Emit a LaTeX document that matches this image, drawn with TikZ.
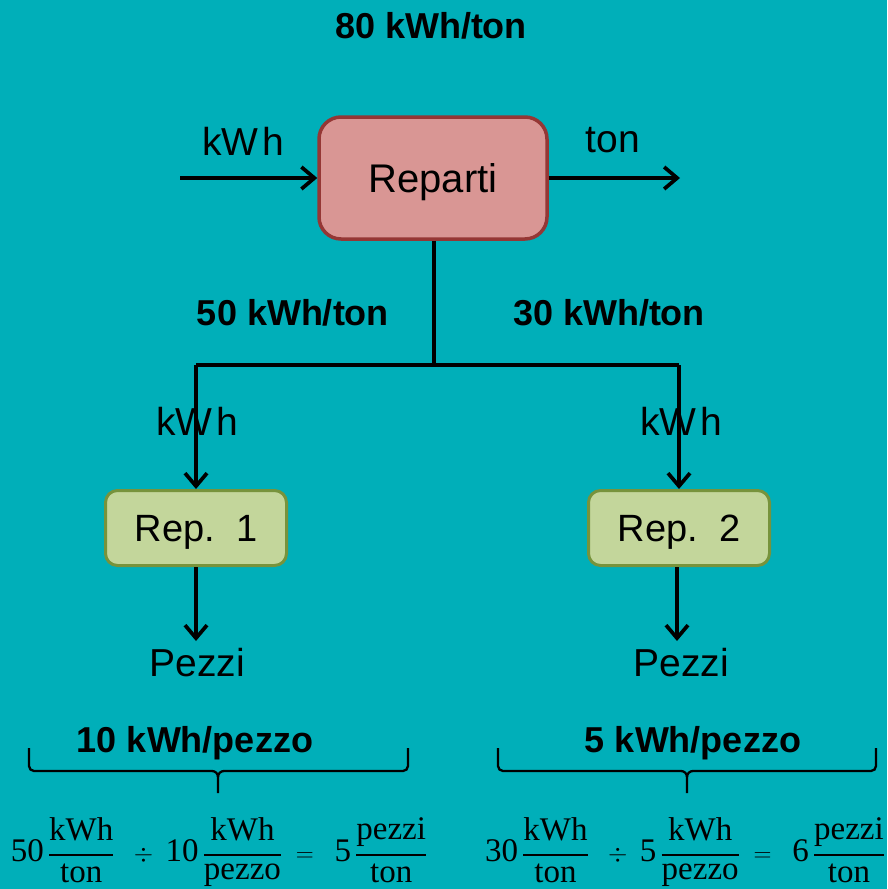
\documentclass[tikz,border=0pt]{standalone}
\usepackage{fontspec}
\usepackage{amsmath}
\setmainfont{Liberation Sans}
\newfontfamily\eqfont{Liberation Serif}
\usetikzlibrary{arrows.meta}
\definecolor{bg}{RGB}{0,175,185}
\definecolor{redfill}{RGB}{217,150,148}
\definecolor{redline}{RGB}{149,55,53}
\definecolor{grfill}{RGB}{195,214,155}
\definecolor{grline}{RGB}{119,147,60}
\newcommand{\myfr}[2]{\genfrac{}{}{2.5pt}{0}{\text{#1}\rule[-6pt]{0pt}{6pt}}{\text{#2}}}
\begin{document}
\begin{tikzpicture}[x=1pt,y=-1pt,
  lab/.style={font=\fontsize{39}{44}\selectfont, anchor=base, inner sep=0pt},
  blab/.style={font=\bfseries\fontsize{36}{42}\selectfont, anchor=base, inner sep=0pt},
  eqn/.style={font=\eqfont\fontsize{33}{38}\selectfont, anchor=base, inner sep=0pt},
  mainbox/.style={draw=redline, fill=redfill, line width=3.5pt, rounded corners=22pt,
     minimum width=228pt, minimum height=122pt, inner sep=0pt,
     font=\fontsize{40}{46}\selectfont, text height=29pt, text depth=0pt},
  subbox/.style={draw=grline, fill=grfill, line width=3pt, rounded corners=12pt,
     minimum width=181pt, minimum height=75pt, inner sep=0pt,
     font=\fontsize{38}{44}\selectfont, text height=27.5pt, text depth=0pt},
  conn/.style={line width=3.7pt, draw=black},
  arr/.style={conn, -{Straight Barb[length=13pt,width=22pt]}},
  bracestyle/.style={line width=2.3pt, draw=black}
]
\useasboundingbox[fill=bg] (0,0) rectangle (887,889);

% title
\node[blab] (t80) at (431,38) {80 kWh/ton};

% main box
\node[mainbox] (rep) at (433,178) {Reparti};
\coordinate (inp) at (180,178);
\coordinate (outp) at (680,178);
\draw[arr] (inp) -- (rep.west);
\draw[arr] (rep.east) -- (outp);
\node[lab] (kin) at (243,155) {kW\kern4pt h};
\node[lab] (tout) at (613,152) {ton};

% split
\coordinate (j) at (434,365);
\coordinate (jl) at (196,365);
\coordinate (jr) at (679,365);
\node[blab] (l50) at (293,325) {50 kWh/ton};
\node[blab] (l30) at (609,325) {30 kWh/ton};

\node[subbox] (r1) at (196,528) {Rep.\ \ 1};
\node[subbox] (r2) at (679,528) {Rep.\ \ 2};

\draw[conn] (rep.south -| j) -- (j);
\draw[conn] (jl) -- (jr);
\draw[arr] (jl) -- (r1.north);
\draw[arr] (jr) -- (r2.north);
\node[lab] (k1) at (197,435) {kW\kern4pt h};
\node[lab] (k2) at (681,435) {kW\kern4pt h};

% outputs
\node[lab] (p1) at (197,676) {Pezzi};
\node[lab] (p2) at (681,676) {Pezzi};
\coordinate (p1t) at (196,641);
\coordinate (p2t) at (677,641);
\draw[arr] (r1.south) -- (p1t);
\draw[arr] (r2.south -| p2t) -- (p2t);

% per-piece labels
\node[blab] (e10) at (195,752) {10 kWh/pezzo};
\node[blab] (e5) at (693,752) {5 kWh/pezzo};

% braces
\draw[bracestyle] (29,748) -- (29,766) to[out=-90,in=180] (34,771) -- (212,771)
   to[out=0,in=90] (218,777) -- (218,793);
\draw[bracestyle] (218,777) to[out=90,in=180] (224,771) -- (403,771)
   to[out=0,in=-90] (408,766) -- (408,748);
\draw[bracestyle] (498,748) -- (498,766) to[out=-90,in=180] (503,771) -- (681,771)
   to[out=0,in=90] (687,777) -- (687,793);
\draw[bracestyle] (687,777) to[out=90,in=180] (693,771) -- (871,771)
   to[out=0,in=-90] (876,766) -- (876,748);

% equations
\node[eqn] (eq1) at (219,861) {$\text{50}\,\myfr{kWh}{ton}\;\;\div\;\text{10}\,\myfr{kWh}{pezzo}\;=\;\;\text{5}\,\myfr{pezzi}{ton}$};
\node[eqn] (eq2) at (685,861) {$\text{30}\,\myfr{kWh}{ton}\;\;\div\;\text{5}\,\myfr{kWh}{pezzo}\;=\;\;\text{6}\,\myfr{pezzi}{ton}$};
\end{tikzpicture}
\end{document}
